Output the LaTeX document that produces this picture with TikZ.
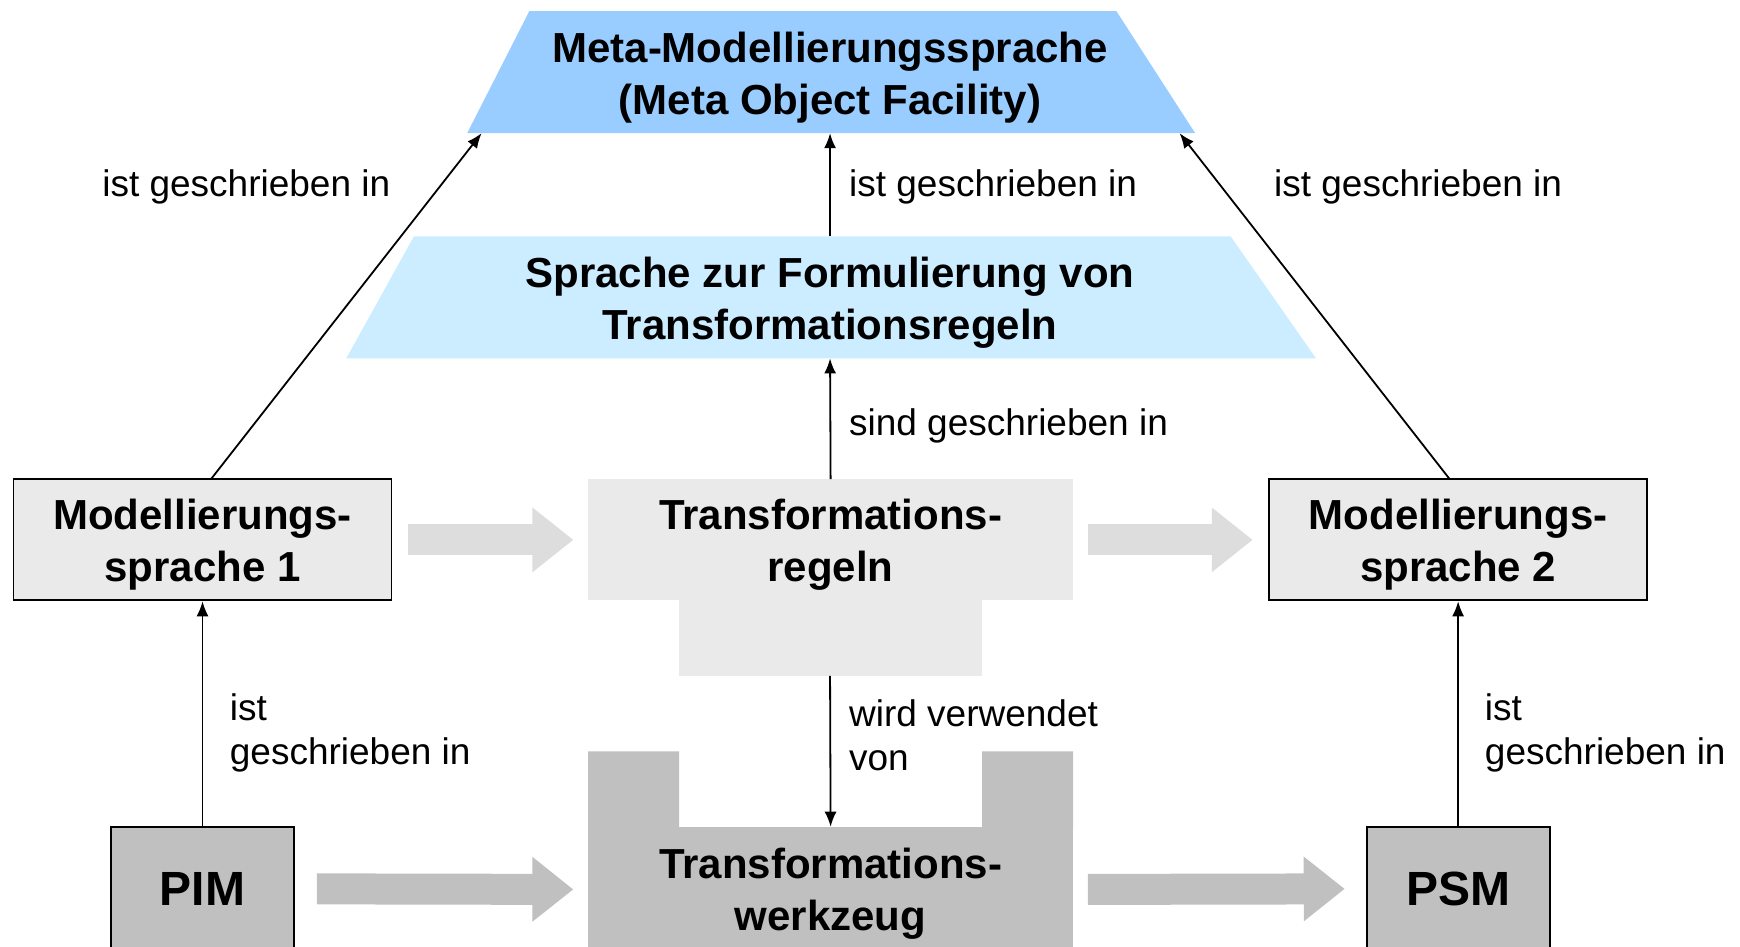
\documentclass[tikz,border=0pt]{standalone}
\usepackage{fontspec}
\setmainfont{Liberation Sans}
\usetikzlibrary{arrows.meta,calc}

\definecolor{metablue}{RGB}{153,204,255}
\definecolor{langblue}{RGB}{204,236,255}
\definecolor{boxlight}{RGB}{234,234,234}
\definecolor{arrowlight}{RGB}{221,221,221}
\definecolor{boxdark}{RGB}{192,192,192}

\begin{document}
\begin{tikzpicture}[x=1.1097pt, y=-1.1097pt,
  heading/.style={font=\fontsize{42}{52}\selectfont\bfseries, align=center, inner sep=0pt, yshift=-4.4pt},
  bigtext/.style={font=\fontsize{48}{56}\selectfont\bfseries, inner sep=0pt},
  lbl/.style={font=\fontsize{37}{44}\selectfont, align=left, inner sep=0pt, anchor=west, yshift=-4pt},
  boxed/.style={draw=black, line width=1.8pt},
  link/.style={line width=1.8pt, -{Latex[length=15pt,width=12pt]}},
  bigarrow/.style={line width=31pt, line cap=butt, -{Triangle[length=41pt,width=62pt]}},
]
\useasboundingbox (0,0) rectangle (1568,853);

% meta-modelling language
\fill[metablue] (477,10) -- (1006,10) -- (1077,120) -- (421,120) -- cycle;
\node[heading] (meta) at (748,66) {Meta-Modellierungssprache\\(Meta Object Facility)};
\coordinate (metaL) at (434,120);
\coordinate (metaM) at (748,120);
\coordinate (metaR) at (1063,120);

% language for transformation rules
\fill[langblue] (373,213) -- (1109,213) -- (1186,323) -- (312,323) -- cycle;
\node[heading] (lang) at (748,269) {Sprache zur Formulierung von\\Transformationsregeln};
\coordinate (langT) at (748,213);
\coordinate (langB) at (748,323);

% modelling languages
\node[boxed, fill=boxlight, minimum width=378pt, minimum height=121pt]
  (ml1) at (182.5,486.5) {};
\node[heading] (ml1-t) at (ml1) {Modellierungs-\\sprache 1};
\node[boxed, fill=boxlight, minimum width=378pt, minimum height=121pt]
  (ml2) at (1314,486.5) {};
\node[heading] (ml2-t) at (ml2) {Modellierungs-\\sprache 2};

% models
\node[boxed, fill=boxdark, minimum width=183pt, minimum height=124pt, bigtext]
  (pim) at (182.5,801) {PIM};
\node[boxed, fill=boxdark, minimum width=183pt, minimum height=124pt, bigtext]
  (psm) at (1314,801) {PSM};

% transformation rules (plug shape)
\fill[boxlight] (612,540) rectangle (885,609);
\node[fill=boxlight, minimum width=485pt, minimum height=121pt]
  (rules) at (748.5,486.5) {};
\node[heading] (rules-t) at (rules) {Transformations-\\regeln};
\coordinate (rulesB) at (748,609);

% transformation tool (socket shape)
\fill[boxdark] (530,677) rectangle (612,746) (885,677) rectangle (967,746);
\node[fill=boxdark, minimum width=485pt, minimum height=125pt]
  (tool) at (748.5,801.5) {};
\node[heading] (tool-t) at (tool) {Transformations-\\werkzeug};

% thin connectors
\draw[link] ([xshift=9pt]ml1.north) -- (metaL);
\draw[link] ([xshift=-9pt]ml2.north) -- (metaR);
\draw[link] (langT) -- (metaM);
\draw[link] (rules.north) -- (langB);
\draw[link] (rulesB) -- (tool.north);
\draw[link] (pim.north) -- (ml1.south);
\draw[link] (psm.north) -- (ml2.south);

% broad flow arrows
\draw[bigarrow, arrowlight] ([xshift=15.5pt]ml1.east) -- ([xshift=-14.5pt]rules.west);
\draw[bigarrow, arrowlight] ([xshift=14.5pt]rules.east) -- ([xshift=-15.5pt]ml2.west);
\draw[bigarrow, boxdark] ([xshift=22pt]pim.east) -- ([xshift=-14.5pt]tool.west);
\draw[bigarrow, boxdark] ([xshift=14.5pt]tool.east) -- ([xshift=-21pt]psm.west);

% labels
\node[lbl] (l1) at (92,165) {ist geschrieben in};
\node[lbl] (l2) at (765,165) {ist geschrieben in};
\node[lbl] (l3) at (1148,165) {ist geschrieben in};
\node[lbl] (l4) at (765,380) {sind geschrieben in};
\node[lbl] (l5) at (207,657) {ist\\geschrieben in};
\node[lbl] (l6) at (765,659) {wird verwendet\\von};
\node[lbl] (l7) at (1338,657) {ist\\geschrieben in};
\end{tikzpicture}
\end{document}
